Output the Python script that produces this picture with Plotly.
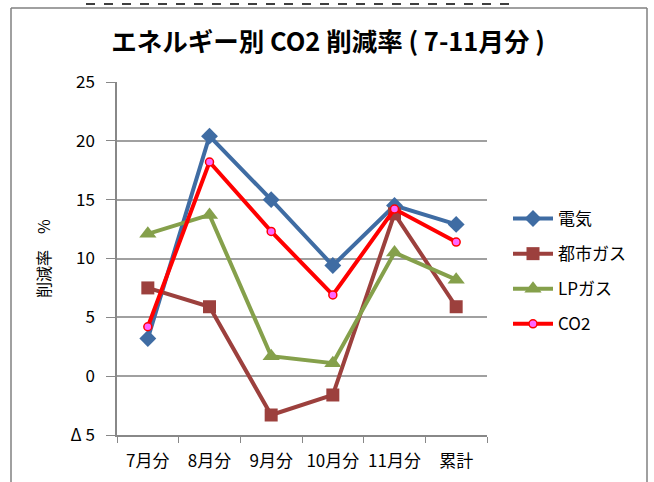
import plotly.graph_objects as go

categories = ["7月分", "8月分", "9月分", "10月分", "11月分", "累計"]
denki = [3.2, 20.4, 15.0, 9.4, 14.5, 12.9]
toshigas = [7.5, 5.9, -3.3, -1.6, 13.8, 5.9]
lpgas = [12.1, 13.7, 1.7, 1.1, 10.5, 8.2]
co2 = [4.2, 18.2, 12.3, 6.9, 14.2, 11.4]
ytick_vals = [-5, 0, 5, 10, 15, 20, 25]
ytick_text = ["Δ 5", "0", "5", "10", "15", "20", "25"]

FONT = "Noto Sans CJK JP"

fig = go.Figure()
fig.add_trace(go.Scatter(x=categories, y=denki, name="電気", mode="lines+markers",
                         legendgroup="a",
                         line=dict(color="#3F6CA3", width=4),
                         marker=dict(symbol="diamond", size=13, color="#3F6CA3")))
fig.add_trace(go.Scatter(x=categories, y=toshigas, name="都市ガス", mode="lines+markers",
                         legendgroup="b",
                         line=dict(color="#9C403D", width=4),
                         marker=dict(symbol="square", size=13, color="#9C403D")))
fig.add_trace(go.Scatter(x=categories, y=lpgas, name="LPガス", mode="lines+markers",
                         legendgroup="c",
                         line=dict(color="#85A04B", width=4),
                         marker=dict(symbol="triangle-up", size=15, color="#85A04B")))
fig.add_trace(go.Scatter(x=categories, y=co2, name="CO2", mode="lines+markers",
                         legendgroup="d",
                         line=dict(color="#FF0000", width=4),
                         marker=dict(symbol="circle", size=8, color="#FF66FF",
                                     line=dict(color="#FF0000", width=1.5))))

W, H = 654, 482
L, R, T, B = 117, 167, 82, 47
pw, ph = W - L - R, H - T - B

def px(x):
    return (x - L) / pw

def py(y):
    return (H - B - y) / ph

shapes = [
    # outer chart frame
    dict(type="line", xref="paper", yref="paper", x0=px(11), x1=px(11), y0=py(8), y1=py(490),
         line=dict(color="#808080", width=1.5)),
    dict(type="line", xref="paper", yref="paper", x0=px(647), x1=px(647), y0=py(8), y1=py(490),
         line=dict(color="#808080", width=1.5)),
    dict(type="line", xref="paper", yref="paper", x0=px(11), x1=px(647), y0=py(8), y1=py(8),
         line=dict(color="#808080", width=1.5)),
    # dashed box at top
    dict(type="rect", xref="paper", yref="paper", x0=px(86), x1=px(512), y0=py(4), y1=py(-10),
         line=dict(color="#000000", width=1.5, dash="dash")),
]

fig.update_layout(
    width=W, height=H,
    margin=dict(l=L, r=R, t=T, b=B, autoexpand=False),
    paper_bgcolor="white", plot_bgcolor="white",
    font=dict(family=FONT, color="#000000", size=16),
    title=dict(text="<b>エネルギー別 CO2 削減率 ( 7-11月分 )</b>", x=328 / W, xanchor="center",
               y=1 - 42 / H, yanchor="middle", font=dict(size=25.5, family=FONT)),
    showlegend=True,
    legend=dict(x=px(508), y=py(201), xanchor="left", yanchor="top",
                font=dict(size=17, family=FONT), tracegroupgap=10, itemwidth=40,
                bgcolor="rgba(0,0,0,0)"),
    shapes=shapes,
    xaxis=dict(type="category", range=[-0.5, 5.5], showgrid=False, showline=True,
               linecolor="#888888", linewidth=1.5, ticks="outside", tickson="boundaries",
               ticklen=6, tickcolor="#888888", tickfont=dict(size=17, family=FONT),
               tickangle=0, ticklabelstandoff=10, zeroline=False, fixedrange=True,
               automargin=False),
    yaxis=dict(range=[-5, 25], tickvals=ytick_vals, ticktext=ytick_text, showgrid=True,
               gridcolor="#A0A0A0", gridwidth=1.5, showline=True, linecolor="#888888",
               linewidth=1.5, ticks="outside", ticklen=9, tickcolor="#888888",
               tickfont=dict(size=17, family=FONT), zeroline=False, automargin=False,
               ticklabelstandoff=8,
               title=dict(text="削減率　%", font=dict(size=16, family=FONT), standoff=16)),
)

fig.write_html("out.html", post_script="document.body.style.margin='0';",
               config={"displayModeBar": False})
